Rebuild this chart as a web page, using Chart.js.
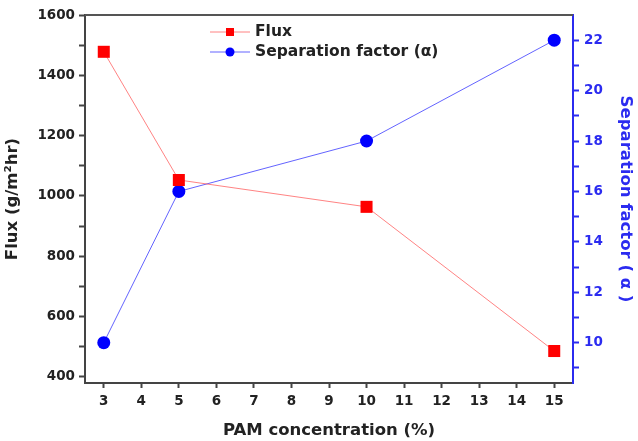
<!DOCTYPE html>
<html>
<head>
<meta charset="utf-8">
<script src="https://cdn.jsdelivr.net/npm/chart.js@4.4.0/dist/chart.umd.min.js"></script>
<style>
  html, body { margin: 0; padding: 0; background: #ffffff; }
  #wrap { width: 638px; height: 441px; position: relative; }
</style>
</head>
<body>
<div id="wrap"><canvas id="c" width="638" height="441"></canvas></div>
<script>
// ---- data ----
const concentrations = [3, 5, 10, 15];
const fluxValues = [1478, 1053, 964, 486];
const separationValues = [10, 16, 18, 22];
const xTickValues = [3, 4, 5, 6, 7, 8, 9, 10, 11, 12, 13, 14, 15];
const fluxTickValues = [400, 500, 600, 700, 800, 900, 1000, 1100, 1200, 1300, 1400, 1500, 1600];
const fluxLabelValues = [400, 600, 800, 1000, 1200, 1400, 1600];
const sepTickValues = [9, 10, 11, 12, 13, 14, 15, 16, 17, 18, 19, 20, 21, 22];
const sepLabelValues = [10, 12, 14, 16, 18, 20, 22];
const seriesNames = ['Flux', 'Separation factor (\u03B1)'];

const FONT = "'DejaVu Sans', Verdana, sans-serif";
const DARK = '#222222';
const BLUE = '#2b2bf0';

const legendPlugin = {
  id: 'insideLegend',
  afterDraw(chart) {
    const ctx = chart.ctx;
    const ca = chart.chartArea;
    // top frame line
    ctx.save();
    ctx.strokeStyle = '#555555';
    ctx.lineWidth = 2;
    ctx.beginPath();
    ctx.moveTo(ca.left, ca.top);
    ctx.lineTo(ca.right, ca.top);
    ctx.stroke();
    // legend
    const x0 = 210, x1 = 250, tx = 255;
    const ys = [32, 52];
    chart.data.datasets.forEach((ds, i) => {
      const y = ys[i];
      ctx.strokeStyle = ds.borderColor;
      ctx.lineWidth = 1;
      ctx.beginPath();
      ctx.moveTo(x0, y); ctx.lineTo(x1, y);
      ctx.stroke();
      ctx.fillStyle = ds.pointBackgroundColor;
      if (ds.pointStyle === 'rect') {
        ctx.fillRect((x0 + x1) / 2 - 4, y - 4, 8, 8);
      } else {
        ctx.beginPath();
        ctx.arc((x0 + x1) / 2, y, 4.5, 0, Math.PI * 2);
        ctx.fill();
      }
      ctx.fillStyle = DARK;
      ctx.font = 'bold 15.5px ' + FONT;
      ctx.textBaseline = 'middle';
      ctx.textAlign = 'left';
      ctx.fillText(ds.label, tx, y);
    });
    ctx.restore();
  }
};

function keepTicks(values) {
  return function(scale) {
    scale.ticks = values.map(v => ({ value: v }));
  };
}

new Chart(document.getElementById('c'), {
  type: 'line',
  data: {
    datasets: [
      {
        label: seriesNames[0],
        data: concentrations.map((x, i) => ({ x: x, y: fluxValues[i] })),
        yAxisID: 'y',
        borderColor: 'rgba(255,90,90,0.75)',
        borderWidth: 1,
        pointStyle: 'rect',
        pointRadius: 8.5,
        pointHoverRadius: 8.5,
        pointBackgroundColor: '#ff0000',
        pointBorderColor: '#ff0000',
        pointBorderWidth: 0,
        tension: 0
      },
      {
        label: seriesNames[1],
        data: concentrations.map((x, i) => ({ x: x, y: separationValues[i] })),
        yAxisID: 'y1',
        borderColor: 'rgba(60,60,255,0.8)',
        borderWidth: 1,
        pointStyle: 'circle',
        pointRadius: 6.5,
        pointHoverRadius: 6.5,
        pointBackgroundColor: '#0000ff',
        pointBorderColor: '#0000ff',
        pointBorderWidth: 0,
        tension: 0
      }
    ]
  },
  options: {
    responsive: false,
    animation: false,
    events: [],
    layout: { padding: { top: 15, left: 0, right: 0, bottom: 0 } },
    plugins: {
      legend: { display: false },
      tooltip: { enabled: false }
    },
    scales: {
      x: {
        type: 'linear',
        min: 2.5,
        max: 15.5,
        afterBuildTicks: keepTicks(xTickValues),
        afterFit(scale) { scale.height = 58; },
        border: { display: true, color: '#444444', width: 2 },
        grid: { drawOnChartArea: false, drawTicks: true, tickLength: 5, tickColor: '#444444', tickWidth: 2 },
        ticks: {
          color: DARK,
          font: { family: FONT, size: 13.5, weight: 'bold' },
          padding: 5,
          maxRotation: 0,
          autoSkip: false,
          callback: v => String(v)
        },
        title: {
          display: true,
          text: 'PAM concentration (%)',
          color: DARK,
          font: { family: FONT, size: 16.5, weight: 'bold' },
          padding: { top: 0, bottom: 0 }
        }
      },
      y: {
        type: 'linear',
        position: 'left',
        min: 380,
        max: 1600,
        afterBuildTicks: keepTicks(fluxTickValues),
        afterFit(scale) { scale.width = 85; },
        border: { display: true, color: '#444444', width: 2 },
        grid: { drawOnChartArea: false, drawTicks: true, tickLength: 6, tickColor: '#444444', tickWidth: 2 },
        ticks: {
          color: DARK,
          font: { family: FONT, size: 13.5, weight: 'bold' },
          padding: 4,
          autoSkip: false,
          callback: v => fluxLabelValues.includes(v) ? String(v) : ''
        },
        title: {
          display: true,
          text: 'Flux (g/m\u00B2hr)',
          color: DARK,
          font: { family: FONT, size: 16.5, weight: 'bold' },
          padding: 3
        }
      },
      y1: {
        type: 'linear',
        position: 'right',
        min: 8.4,
        max: 23,
        afterBuildTicks: keepTicks(sepTickValues),
        afterFit(scale) { scale.width = 65; },
        border: { display: true, color: BLUE, width: 2 },
        grid: { drawOnChartArea: false, drawTicks: true, tickLength: 6, tickColor: BLUE, tickWidth: 2 },
        ticks: {
          color: BLUE,
          font: { family: FONT, size: 13.5, weight: 'bold' },
          padding: 5,
          autoSkip: false,
          callback: v => sepLabelValues.includes(v) ? String(v) : ''
        },
        title: {
          display: true,
          text: 'Separation factor ( \u03B1 )',
          color: BLUE,
          font: { family: FONT, size: 16.5, weight: 'bold' },
          padding: 3
        }
      }
    }
  },
  plugins: [legendPlugin]
});
</script>
</body>
</html>
